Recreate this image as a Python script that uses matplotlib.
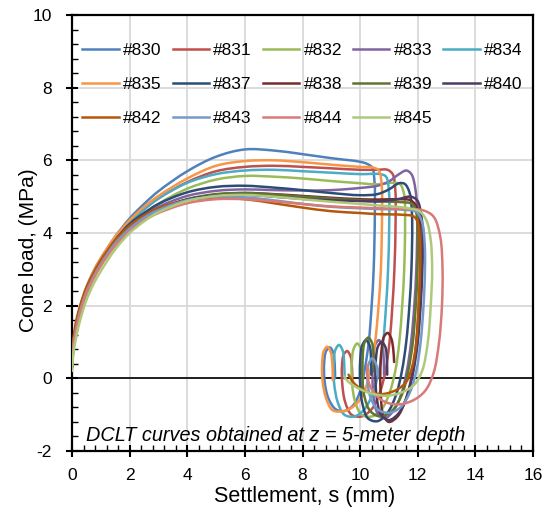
import matplotlib
matplotlib.use("Agg")
import numpy as np
import matplotlib.pyplot as plt
from matplotlib.ticker import MultipleLocator
from matplotlib.path import Path
from matplotlib.patches import PathPatch
from matplotlib.lines import Line2D

plt.rcParams["font.family"] = ["Liberation Sans", "DejaVu Sans"]
plt.rcParams["axes.unicode_minus"] = False

# Settlement grid shared by the loading branch of every curve (mm)
S_RISE = [0.0, 0.05, 0.15, 0.3, 0.5, 0.75, 1.0, 1.5, 2.0, 2.5, 3.0, 4.0, 5.0, 6.0, 7.0, 8.0, 9.0, 10.0]

# Cone load on the loading branch (MPa)
q_rise_830 = [0.35, 0.95, 1.5, 2.0, 2.5, 2.95, 3.3, 3.9, 4.4, 4.8, 5.15, 5.7, 6.1, 6.3, 6.27, 6.17, 6.06, 5.96]
q_rise_831 = [0.3, 0.9, 1.45, 1.95, 2.45, 2.9, 3.25, 3.85, 4.3, 4.65, 4.95, 5.4, 5.7, 5.82, 5.85, 5.82, 5.78, 5.74]
q_rise_832 = [0.25, 0.8, 1.3, 1.8, 2.3, 2.75, 3.1, 3.7, 4.15, 4.5, 4.8, 5.22, 5.47, 5.57, 5.55, 5.5, 5.43, 5.37]
q_rise_833 = [0.3, 0.9, 1.4, 1.9, 2.4, 2.85, 3.2, 3.78, 4.2, 4.5, 4.72, 5.02, 5.16, 5.2, 5.18, 5.17, 5.18, 5.24]
q_rise_834 = [0.3, 0.9, 1.45, 1.95, 2.45, 2.9, 3.25, 3.85, 4.3, 4.65, 4.95, 5.38, 5.62, 5.72, 5.74, 5.7, 5.66, 5.62]
q_rise_835 = [0.3, 0.95, 1.5, 2.0, 2.5, 2.95, 3.3, 3.9, 4.35, 4.72, 5.02, 5.5, 5.85, 5.98, 6.0, 5.95, 5.88, 5.82]
q_rise_837 = [0.3, 0.9, 1.4, 1.9, 2.4, 2.85, 3.2, 3.8, 4.25, 4.55, 4.8, 5.12, 5.27, 5.3, 5.25, 5.18, 5.1, 5.04]
q_rise_838 = [0.35, 1.0, 1.5, 1.95, 2.45, 2.85, 3.2, 3.75, 4.15, 4.45, 4.65, 4.92, 5.05, 5.1, 5.07, 5.02, 4.97, 4.93]
q_rise_839 = [0.3, 0.9, 1.4, 1.9, 2.38, 2.8, 3.15, 3.72, 4.12, 4.42, 4.65, 4.93, 5.07, 5.1, 5.06, 5.0, 4.95, 4.9]
q_rise_840 = [0.3, 0.9, 1.4, 1.9, 2.4, 2.82, 3.17, 3.73, 4.13, 4.43, 4.65, 4.92, 5.03, 5.05, 5.0, 4.94, 4.9, 4.88]
q_rise_842 = [0.45, 1.1, 1.6, 2.05, 2.5, 2.9, 3.25, 3.8, 4.2, 4.48, 4.68, 4.9, 4.97, 4.93, 4.82, 4.7, 4.6, 4.55]
q_rise_843 = [0.3, 0.9, 1.4, 1.9, 2.38, 2.8, 3.15, 3.72, 4.12, 4.42, 4.63, 4.9, 5.0, 4.98, 4.9, 4.8, 4.72, 4.68]
q_rise_844 = [0.3, 0.85, 1.35, 1.85, 2.35, 2.75, 3.1, 3.65, 4.05, 4.35, 4.55, 4.82, 4.93, 4.93, 4.87, 4.8, 4.73, 4.7]
q_rise_845 = [0.2, 0.7, 1.15, 1.65, 2.15, 2.6, 2.95, 3.55, 4.0, 4.32, 4.57, 4.88, 5.02, 5.05, 5.0, 4.93, 4.86, 4.8]

# Unloading / rebound branch: settlement (mm) and cone load (MPa)
s_tail_830 = [10.25, 10.42, 10.5, 10.51, 10.47, 10.4, 10.3, 10.15, 9.98, 9.75, 9.45, 9.15, 8.9, 8.77, 8.75, 8.82, 8.95, 9.07, 9.12, 9.13]
q_tail_830 = [5.9, 5.8, 5.4, 4.5, 3.0, 2.0, 1.0, 0.2, -0.4, -0.75, -0.9, -0.85, -0.55, -0.1, 0.4, 0.75, 0.85, 0.7, 0.35, 0.0]

s_tail_831 = [10.6, 10.95, 11.13, 11.22, 11.23, 11.19, 11.12, 11.02, 10.88, 10.68, 10.4, 10.05, 9.7, 9.48, 9.38, 9.37, 9.43, 9.55, 9.67, 9.72, 9.73]
q_tail_831 = [5.74, 5.74, 5.62, 5.2, 4.3, 3.0, 2.0, 1.0, 0.2, -0.4, -0.85, -1.05, -1.0, -0.65, -0.15, 0.35, 0.65, 0.75, 0.6, 0.25, -0.1]

s_tail_832 = [10.6, 11.1, 11.38, 11.53, 11.56, 11.53, 11.46, 11.36, 11.22, 11.02, 10.75, 10.4, 10.05, 9.83, 9.72, 9.71, 9.77, 9.9, 10.03, 10.08, 10.09]
q_tail_832 = [5.34, 5.38, 5.35, 5.05, 4.3, 3.0, 2.0, 1.0, 0.2, -0.4, -0.85, -1.05, -1.0, -0.65, -0.15, 0.4, 0.8, 0.96, 0.8, 0.4, 0.0]

s_tail_833 = [10.6, 11.0, 11.35, 11.6, 11.78, 11.92, 11.98, 11.95, 11.88, 11.77, 11.62, 11.42, 11.15, 10.85, 10.6, 10.47, 10.43, 10.45, 10.52, 10.65, 10.77, 10.82, 10.83]
q_tail_833 = [5.3, 5.42, 5.62, 5.72, 5.62, 5.2, 4.4, 3.0, 2.0, 1.0, 0.2, -0.45, -0.9, -1.1, -0.95, -0.55, 0.0, 0.55, 0.92, 1.05, 0.9, 0.5, 0.1]

s_tail_834 = [10.7, 10.9, 11.0, 11.01, 10.97, 10.9, 10.8, 10.65, 10.45, 10.15, 9.8, 9.45, 9.22, 9.1, 9.08, 9.14, 9.27, 9.4, 9.45, 9.46]
q_tail_834 = [5.62, 5.55, 5.15, 4.3, 3.0, 2.0, 1.0, 0.2, -0.4, -0.85, -1.05, -1.0, -0.65, -0.15, 0.4, 0.78, 0.92, 0.75, 0.35, 0.0]

s_tail_835 = [10.45, 10.65, 10.75, 10.76, 10.72, 10.64, 10.52, 10.35, 10.15, 9.85, 9.45, 9.05, 8.82, 8.7, 8.68, 8.74, 8.86, 8.98, 9.04, 9.05]
q_tail_835 = [5.8, 5.72, 5.3, 4.5, 3.0, 2.0, 1.0, 0.2, -0.35, -0.72, -0.9, -0.88, -0.55, -0.1, 0.4, 0.75, 0.87, 0.72, 0.35, -0.05]

s_tail_837 = [10.6, 11.0, 11.35, 11.55, 11.72, 11.8, 11.78, 11.71, 11.6, 11.45, 11.25, 10.95, 10.6, 10.27, 10.08, 10.0, 10.0, 10.06, 10.2, 10.33, 10.38, 10.39]
q_tail_837 = [5.07, 5.2, 5.37, 5.35, 5.1, 4.5, 3.0, 2.0, 1.0, 0.2, -0.45, -0.95, -1.18, -1.1, -0.7, -0.15, 0.45, 0.88, 1.05, 0.9, 0.5, 0.1]

s_tail_838 = [10.6, 11.3, 11.75, 11.98, 12.08, 12.1, 12.07, 12.0, 11.9, 11.75, 11.55, 11.3, 11.0, 10.8, 10.72, 10.7, 10.74, 10.83, 10.96, 11.08, 11.15, 11.18]
q_tail_838 = [4.92, 4.93, 4.9, 4.7, 4.2, 3.5, 2.5, 1.5, 0.6, -0.1, -0.65, -1.05, -1.2, -1.0, -0.5, 0.1, 0.75, 1.15, 1.25, 1.1, 0.8, 0.45]

s_tail_839 = [10.6, 11.4, 11.8, 11.95, 12.0, 11.99, 11.93, 11.83, 11.67, 11.45, 11.1, 10.7, 10.35, 10.15, 10.08, 10.09, 10.15, 10.28, 10.41, 10.47, 10.48]
q_tail_839 = [4.87, 4.85, 4.8, 4.55, 4.0, 3.0, 2.0, 1.0, 0.2, -0.45, -0.9, -1.05, -0.9, -0.5, 0.0, 0.6, 0.98, 1.12, 0.98, 0.6, 0.2]

s_tail_840 = [10.6, 11.3, 11.75, 11.98, 12.12, 12.18, 12.16, 12.1, 12.0, 11.85, 11.65, 11.35, 11.0, 10.72, 10.58, 10.53, 10.55, 10.62, 10.75, 10.88, 10.93, 10.94]
q_tail_840 = [4.87, 4.93, 5.0, 4.9, 4.5, 3.8, 3.0, 2.0, 1.0, 0.2, -0.45, -0.95, -1.15, -1.0, -0.55, 0.0, 0.55, 0.88, 1.0, 0.85, 0.5, 0.1]

s_tail_842 = [10.6, 11.5, 11.85, 12.0, 12.07, 12.08, 12.03, 11.95, 11.8, 11.6, 11.3, 10.9, 10.45, 10.05, 9.75, 9.6]
q_tail_842 = [4.52, 4.5, 4.46, 4.3, 3.8, 3.0, 2.0, 1.0, 0.3, -0.1, -0.3, -0.42, -0.42, -0.3, -0.1, 0.1]

s_tail_843 = [10.6, 11.5, 11.95, 12.15, 12.24, 12.25, 12.2, 12.1, 11.95, 11.72, 11.4, 11.0, 10.6, 10.35, 10.25, 10.3, 10.42, 10.55, 10.6]
q_tail_843 = [4.66, 4.64, 4.58, 4.3, 3.7, 3.0, 2.0, 1.0, 0.2, -0.4, -0.8, -0.95, -0.85, -0.5, 0.0, 0.4, 0.55, 0.4, 0.1]

s_tail_844 = [10.6, 11.5, 12.2, 12.55, 12.78, 12.86, 12.84, 12.74, 12.55, 12.25, 11.8, 11.25, 10.75, 10.4, 10.25, 10.25]
q_tail_844 = [4.68, 4.66, 4.62, 4.45, 3.9, 3.0, 2.0, 1.0, 0.15, -0.35, -0.62, -0.72, -0.6, -0.3, 0.05, 0.35]

s_tail_845 = [10.6, 11.5, 12.05, 12.3, 12.45, 12.5, 12.45, 12.35, 12.15, 11.85, 11.4, 10.9, 10.4, 9.95, 9.6, 9.45]
q_tail_845 = [4.76, 4.7, 4.6, 4.35, 3.8, 3.0, 2.0, 1.0, 0.2, -0.2, -0.4, -0.48, -0.42, -0.28, -0.1, 0.05]

labels = ["#830", "#831", "#832", "#833", "#834", "#835", "#837",
          "#838", "#839", "#840", "#842", "#843", "#844", "#845"]
colors = ["#4F81BD", "#C0504D", "#9BBB59", "#8064A2", "#4BACC6", "#F79646", "#2C4D75",
          "#772C2A", "#5F7530", "#4D3B62", "#B65708", "#729ACA", "#D87A78", "#AFC97A"]

rises = [q_rise_830, q_rise_831, q_rise_832, q_rise_833, q_rise_834, q_rise_835, q_rise_837,
         q_rise_838, q_rise_839, q_rise_840, q_rise_842, q_rise_843, q_rise_844, q_rise_845]
tails_s = [s_tail_830, s_tail_831, s_tail_832, s_tail_833, s_tail_834, s_tail_835, s_tail_837,
           s_tail_838, s_tail_839, s_tail_840, s_tail_842, s_tail_843, s_tail_844, s_tail_845]
tails_q = [q_tail_830, q_tail_831, q_tail_832, q_tail_833, q_tail_834, q_tail_835, q_tail_837,
           q_tail_838, q_tail_839, q_tail_840, q_tail_842, q_tail_843, q_tail_844, q_tail_845]


def smooth_path(xs, ys, sx=28.8, sy=36.3, alpha=0.5):
    """Smoothed-line path through the points (centripetal Catmull-Rom as cubic Beziers)."""
    P = np.column_stack([xs, ys]).astype(float)
    ext = np.vstack([2 * P[0] - P[1], P, 2 * P[-1] - P[-2]])
    scale = np.array([sx, sy])
    verts = [P[0]]
    codes = [Path.MOVETO]
    for i in range(1, len(ext) - 2):
        p0, p1, p2, p3 = ext[i - 1], ext[i], ext[i + 1], ext[i + 2]
        d1 = max(np.linalg.norm((p1 - p0) * scale), 1e-6) ** alpha
        d2 = max(np.linalg.norm((p2 - p1) * scale), 1e-6) ** alpha
        d3 = max(np.linalg.norm((p3 - p2) * scale), 1e-6) ** alpha
        b1 = (d1 ** 2 * p2 - d2 ** 2 * p0 + (2 * d1 ** 2 + 3 * d1 * d2 + d2 ** 2) * p1) / (3 * d1 * (d1 + d2))
        b2 = (d3 ** 2 * p1 - d2 ** 2 * p3 + (2 * d3 ** 2 + 3 * d3 * d2 + d2 ** 2) * p2) / (3 * d3 * (d3 + d2))
        verts += [b1, b2, p2]
        codes += [Path.CURVE4] * 3
    return Path(verts, codes)


fig = plt.figure(figsize=(5.47, 5.11), dpi=100)
ax = fig.add_axes([72 / 547, 1 - 451 / 511, 461 / 547, 436 / 511])

handles = {}
for lab, col, qr, ts, tq in zip(labels, colors, rises, tails_s, tails_q):
    path = smooth_path(S_RISE + ts, qr + tq)
    ax.add_patch(PathPatch(path, fill=False, edgecolor=col, lw=1.8,
                           capstyle="round", joinstyle="round", zorder=3))
    handles[lab] = Line2D([], [], color=col, lw=1.8)

ax.axhline(0, color="black", lw=1.2, zorder=2)

ax.set_xlim(0, 16)
ax.set_ylim(-2, 10)
ax.xaxis.set_major_locator(MultipleLocator(2))
ax.xaxis.set_minor_locator(MultipleLocator(0.4))
ax.yaxis.set_major_locator(MultipleLocator(2))
ax.yaxis.set_minor_locator(MultipleLocator(0.4))
ax.grid(True, which="major", color="#d9d9d9", lw=1.3, zorder=0)
ax.set_axisbelow(True)

ax.tick_params(which="major", direction="inout", length=9, width=1.5, labelsize=12.5,
               colors="black", top=False, right=False)
ax.tick_params(which="minor", direction="in", length=4, width=1, top=False, right=False)
ax.tick_params(axis="x", which="major", pad=7.5)
ax.tick_params(axis="y", which="major", pad=10)
for sp in ax.spines.values():
    sp.set_linewidth(1.6)
    sp.set_color("black")

ax.set_xlabel("Settlement, s (mm)", fontsize=15.5)
ax.set_ylabel("Cone load, (MPa)", fontsize=15)
ax.xaxis.set_label_coords(0.505, -0.08)
ax.yaxis.set_label_coords(-0.074, 0.46)

ax.text(0.5, -1.72, "DCLT curves obtained at z = 5-meter depth", style="italic",
        fontsize=14.3, va="baseline", ha="left")

order = ["#830", "#835", "#842", "#831", "#837", "#843", "#832", "#838", "#844",
         "#833", "#839", "#845", "#834", "#840"]
ax.legend([handles[k] for k in order], order, ncol=5, frameon=False, fontsize=12.5,
          handlelength=2.1, handletextpad=0.25, columnspacing=0.62, labelspacing=1.08,
          loc="upper left", bbox_to_anchor=(0.0, 0.96), borderaxespad=0.2)

fig.savefig("out.png", dpi=100)
